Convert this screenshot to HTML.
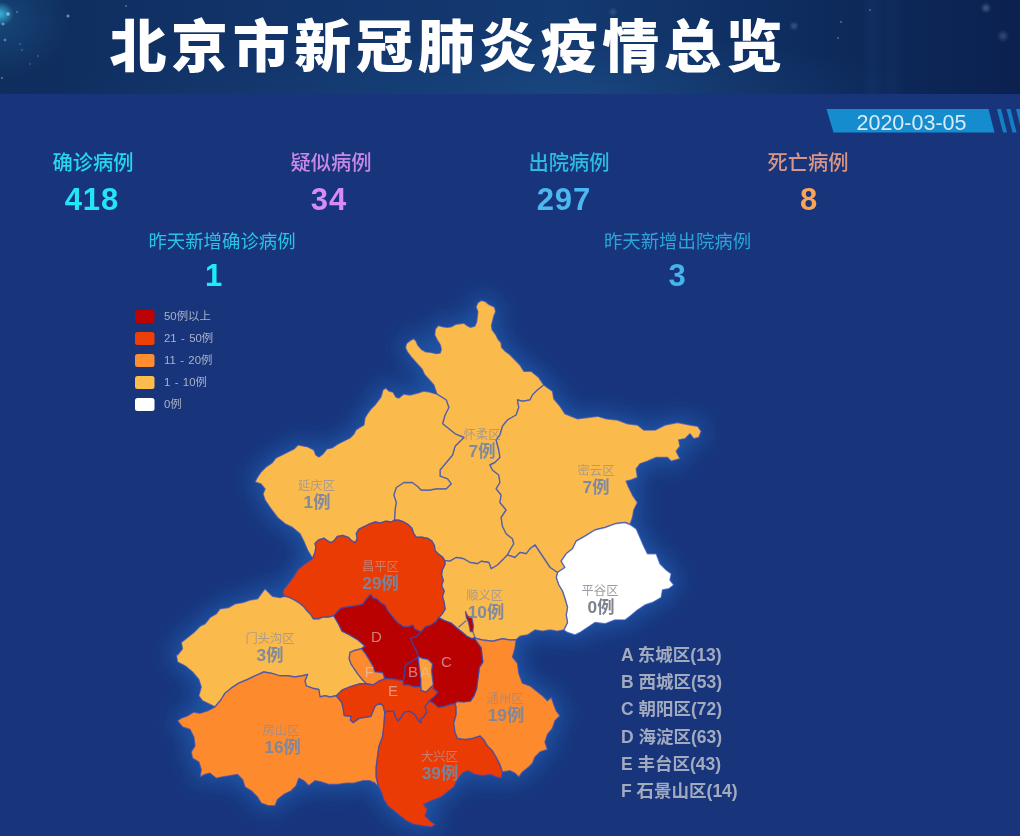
<!DOCTYPE html>
<html lang="zh-CN">
<head>
<meta charset="utf-8">
<title>北京市新冠肺炎疫情总览</title>
<style>
*{margin:0;padding:0;box-sizing:border-box}
html,body{width:1020px;height:836px;overflow:hidden;background:#18357c}
body{position:relative;font-family:"Liberation Sans","Noto Sans CJK SC",sans-serif;color:#fff}
#hdr{position:absolute;left:0;top:0;width:1020px;height:94px;overflow:hidden;
 background:
  radial-gradient(circle 2.6px at 8px 14px, rgba(190,220,245,0.9), rgba(190,220,245,0) 100%),
  radial-gradient(circle 1.9px at 3px 24px, rgba(190,220,245,0.8), rgba(190,220,245,0) 100%),
  radial-gradient(circle 1.8px at 5px 40px, rgba(190,220,245,0.7), rgba(190,220,245,0) 100%),
  radial-gradient(circle 1.6px at 17px 12px, rgba(190,220,245,0.5), rgba(190,220,245,0) 100%),
  radial-gradient(circle 1.4px at 20px 44px, rgba(190,220,245,0.4), rgba(190,220,245,0) 100%),
  radial-gradient(circle 1.4px at 22px 50px, rgba(190,220,245,0.4), rgba(190,220,245,0) 100%),
  radial-gradient(circle 2.1px at 68px 16px, rgba(190,220,245,0.8), rgba(190,220,245,0) 100%),
  radial-gradient(circle 1.3px at 38px 56px, rgba(190,220,245,0.4), rgba(190,220,245,0) 100%),
  radial-gradient(circle 1.3px at 30px 64px, rgba(190,220,245,0.35), rgba(190,220,245,0) 100%),
  radial-gradient(circle 1.6px at 2px 78px, rgba(190,220,245,0.6), rgba(190,220,245,0) 100%),
  radial-gradient(circle 1.6px at 126px 6px, rgba(190,220,245,0.5), rgba(190,220,245,0) 100%),
  radial-gradient(circle 1.6px at 870px 10px, rgba(190,220,245,0.45), rgba(190,220,245,0) 100%),
  radial-gradient(circle 1.6px at 841px 22px, rgba(190,220,245,0.5), rgba(190,220,245,0) 100%),
  radial-gradient(circle 1.6px at 838px 38px, rgba(190,220,245,0.45), rgba(190,220,245,0) 100%),
  radial-gradient(circle 4.8px at 794px 26px, rgba(190,220,245,0.25), rgba(190,220,245,0) 100%),
  radial-gradient(circle 5.6px at 986px 8px, rgba(190,220,245,0.3), rgba(190,220,245,0) 100%),
  radial-gradient(circle 6.4px at 1003px 36px, rgba(190,220,245,0.22), rgba(190,220,245,0) 100%),
  radial-gradient(circle 4.0px at 565px 50px, rgba(190,220,245,0.18), rgba(190,220,245,0) 100%),
  radial-gradient(circle 4.8px at 613px 12px, rgba(190,220,245,0.18), rgba(190,220,245,0) 100%),
  linear-gradient(90deg, rgba(60,120,190,0) 862px, rgba(60,120,190,.07) 872px, rgba(60,120,190,.02) 884px, rgba(60,120,190,.06) 892px, rgba(60,120,190,0) 904px),
  radial-gradient(ellipse 14px 12px at 0px 14px, rgba(60,190,230,.9), rgba(60,190,230,0) 100%),
  radial-gradient(ellipse 70px 60px at 0px 20px, rgba(30,100,150,.45), rgba(30,100,150,0) 100%),
  radial-gradient(ellipse 330px 60px at 580px 94px, rgba(38,95,160,.32), rgba(38,95,160,0) 100%),
  radial-gradient(ellipse 200px 50px at 260px 94px, rgba(30,75,135,.2), rgba(30,75,135,0) 100%),
  linear-gradient(90deg,#0f2d5d 0%,#11346a 28%,#133a71 55%,#0e2b5d 80%,#0b2150 100%);}
#hdr h1{position:absolute;left:109.5px;top:6.5px;font-family:"Liberation Sans","Noto Sans CJK SC",sans-serif;font-weight:900;font-size:57px;letter-spacing:4.6px;line-height:80px;white-space:nowrap;color:#fff}
.stat{position:absolute;text-align:center;white-space:nowrap}
.stat .l{font-size:20.3px;line-height:25px;font-weight:500}
.stat .l2{font-size:18.4px;line-height:24px;font-weight:400}
.stat .n{font-size:31px;line-height:36px;margin-top:5.5px;font-weight:bold;letter-spacing:1px}
.stat .n2{margin-top:4.5px}
#date{position:absolute;left:826px;top:109px;width:168px;height:23px}
#date span{position:absolute;left:0.5px;top:2px;width:170px;text-align:center;font-size:21.5px;letter-spacing:0;line-height:25px;color:#d9ebfa}
#map{position:absolute;left:0;top:0;width:1020px;height:836px}
.d{stroke:rgba(45,75,190,.65);stroke-width:1.4;stroke-linejoin:round}
.c0{fill:#ffffff}.c1{fill:#fbba4c}.c2{fill:#fd8b2d}.c3{fill:#ea3b04}.c4{fill:#ba0101}.c5{fill:#fda03c}
.glow{fill:#2064b8;stroke:#2064b8;stroke-width:10;filter:url(#gl);opacity:.72}
.lg text{font-size:11.4px;word-spacing:1.2px;fill:#a9b2c6}
.nm{font-size:12.3px;fill:rgba(132,138,162,.64);text-anchor:middle}
.nr{fill:rgba(175,180,198,.55)}
.ct{font-size:17.3px;font-weight:bold;fill:rgba(118,134,162,.93);text-anchor:middle}
.lt{font-size:15px;fill:rgba(225,200,200,.62);text-anchor:middle}
.ls text{font-size:17.5px;font-weight:bold;fill:#a2abbe}
</style>
</head>
<body>
<div id="hdr"><h1>北京市新冠肺炎疫情总览</h1></div>
<svg id="map" viewBox="0 0 1020 836">
<defs><filter id="gl" x="-25%" y="-25%" width="150%" height="150%"><feGaussianBlur stdDeviation="11"/></filter></defs>
<polygon points="826.5,109 988.5,109 994.5,132.5 833.5,132.5" fill="#148ccd"/>
<polygon points="997,109 1001,109 1007,132.5 1003,132.5" fill="#1480c4"/>
<polygon points="1006.5,109 1010.5,109 1016.5,132.5 1012.5,132.5" fill="#1480c4"/>
<polygon points="1016,109 1020,109 1026,132.5 1022,132.5" fill="#1480c4"/>
<path class="glow" d="M436.9,394.2L433.8,385L424.5,374.5L422.1,369.2L416.7,363.2L411.4,357.2L407.2,351.8L405.4,347.6L406.6,343.4L410.2,340.5L413.8,338.7L416.1,341.1L417.9,345.2L421.5,349.4L425.7,351.8L431.1,352.4L435.9,353.6L440.1,353L441.3,349.4L440.1,344.6L437.1,339.9L434.7,335.1L435.3,329.1L438.3,325.5L442.5,326.7L447.2,327.3L451.4,326.7L455.6,324.3L459.8,323.7L464,323.1L467,325.5L470.6,327.3L474.8,326.1L476.6,321.9L477.2,317.1L477.8,311.7L476,307L477.8,302.8L481.3,300.4L485.5,301.6L489.1,304.6L494.5,307L495.7,311.7L493.9,315.9L492.7,320.7L491.5,325.5L492.1,329.7L495.7,334.5L498.1,339.3L501.1,342.8L501.7,347.6L505.3,351.2L510,354.8L513.6,358.4L520,365L523.8,371.2L531.2,371.2L538.8,377.5L543.8,385L552.5,391.2L553.8,398.8L560,406.2L565,413.8L577.5,418.8L587.5,417.5L597.5,416.2L606.2,418.8L617.5,420L627.5,423.8L637.5,425L643.8,430L655,430L665,425L677.5,422.5L690,425L697.5,426.2L701.2,431.2L698.8,437.5L693.8,438.8L690,433.8L685,438.8L678.8,440L680,446.2L676.2,451.2L680,458.8L671.2,461.2L667.5,457.5L656.2,457.5L647.5,461.2L640,463.8L636.2,468.8L637.5,477.5L631.2,480L626.2,481.2L628.8,487.5L632.5,495L637.5,502.5L633.8,510L632.5,517.5L630,524.5L636.2,528.8L640,537.5L643.8,546.2L647.5,553.8L656.2,553.8L660,563.8L666.2,570L671.2,573.8L670,580L673.8,585L668.8,588.8L662.5,590L661.2,597.5L652.5,602.5L645,605L637.5,610L630,616.2L625,620L615,620L605,623.8L595,622.5L587.5,627.5L580,632.5L575,635L567.5,632.5L563.8,630L557.5,631.2L550,630L542.5,631.2L535,630L527.5,635L520,636.2L516.2,639.8L515,648.2L512.5,657L517.5,663.2L518.8,673.2L522.5,683.2L530,685.8L536.2,690.8L542.5,695.8L547.5,700.8L551.2,697L553.8,704.5L556.2,710.8L560,715.8L555,720.8L552.5,728.2L547.5,734.5L545,742L547.5,749.5L540,752L535,757L532.5,763.2L528.8,767L522.5,772L518.8,777L515,773.2L510,770.8L502.5,772L501.2,778.2L496.2,777L490,774.5L482.5,775.8L475,774.5L467.5,770.8L462.5,773.2L457.5,779.5L453.8,787L447.5,792L441.2,797L435,799.5L428.8,802L423.8,804.5L427.5,809.5L425,815.8L430,820.8L435,824.5L431.2,827L422.5,825.8L413.8,824.5L406.2,820.8L400,815.8L393.8,810.8L387.5,805.8L383.8,799.5L381.2,792L378.8,787L375,783.2L370,780.8L362.5,780.8L353.8,783.2L346.2,783.2L337.5,784.5L328.8,784.5L321.2,782L315,780.8L308.8,785.8L303.8,780.8L298.8,778.2L296.2,785.8L291.2,790.8L283.8,794.5L277.5,799.5L275,805.8L268.8,805.8L261.2,803.2L257.5,797L251.2,790.8L245,787L242.5,779.5L237.5,774.5L230,775.8L222.5,777L216.2,778.2L210,773.2L205,774.5L200,777L201.2,769.5L198.8,762L192.5,758.2L191.2,752L195,745.8L193.8,737L190,729.5L182.5,727L177.5,720.8L181.2,718.2L187.5,715.8L193.8,712L200,713.2L207.5,710.8L215,707L210,704.5L202.5,700.8L198.8,695.8L201.2,687L198.8,679.5L192.5,672L185,665.8L177.5,662L176.2,654.5L177.5,655L182.5,648.8L181.2,642.5L187.5,637.5L193.8,632.5L200,626.2L205,623.8L210,617.5L216.2,613.8L220,608.8L228.8,607.5L235,603.8L242.5,602.5L250,600L257.5,598.8L261.2,593.8L265,588.8L268.8,592.5L272.5,596.2L280,597.5L284.5,596.4L282.7,592.9L283.6,589.4L288.1,584L293.5,576.8L297.9,569.6L303.3,565.1L309.6,560.6L312.5,558.6L307.5,550L303.8,541.2L300,533.8L292.5,527.5L285,523.8L277.5,517.5L270,507.5L265,499.9L263,493.9L265,488.9L261,483.9L255,481.9L257,477.9L261,471.9L266,466.9L272,462.9L276,457.9L282,454.9L288,451.9L294,448.9L298,444.9L302.9,445.9L307.9,446.9L313.9,449.9L315.9,454.9L318.9,456.9L322.9,453.9L326.9,448.9L331.9,447.9L337.9,443.9L343.9,440.9L349.9,437.9L353.9,433.9L355.9,430L358.9,428L363.9,425L364.9,418L367.9,413L370.9,409L374.9,405L377.9,401L380.9,397L382.9,390L385.9,388L388.9,391L392.9,392L395.9,397L398.9,398L403.8,394L409.8,395L417.8,393L423.8,391L429.8,392L436.9,394.2Z"/>
<path class="d c1" d="M436.9,394.2L433.8,385L424.5,374.5L422.1,369.2L416.7,363.2L411.4,357.2L407.2,351.8L405.4,347.6L406.6,343.4L410.2,340.5L413.8,338.7L416.1,341.1L417.9,345.2L421.5,349.4L425.7,351.8L431.1,352.4L435.9,353.6L440.1,353L441.3,349.4L440.1,344.6L437.1,339.9L434.7,335.1L435.3,329.1L438.3,325.5L442.5,326.7L447.2,327.3L451.4,326.7L455.6,324.3L459.8,323.7L464,323.1L467,325.5L470.6,327.3L474.8,326.1L476.6,321.9L477.2,317.1L477.8,311.7L476,307L477.8,302.8L481.3,300.4L485.5,301.6L489.1,304.6L494.5,307L495.7,311.7L493.9,315.9L492.7,320.7L491.5,325.5L492.1,329.7L495.7,334.5L498.1,339.3L501.1,342.8L501.7,347.6L505.3,351.2L510,354.8L513.6,358.4L520,365L523.8,371.2L531.2,371.2L538.8,377.5L543.8,385L537.5,390L532.5,395L530,400L522.5,401.2L517.5,400L518.8,407.5L516.2,415L507.5,420L502.5,426.2L500,435L496.2,440L498.8,450L500,457.5L495,462.5L490,465L492.5,470L498.8,475L500,482.5L496.2,488.8L501.2,495L500,502.5L506.2,510L501.2,517.5L502.5,526.2L506.2,533.8L512.5,538.8L513.8,543.8L510,550L507.5,555L502.5,560L497.5,565L491.2,568.8L488.8,562.5L481.2,561.2L477.5,563.8L470,562.5L463.8,558.8L456.2,557.5L450,561.2L444.8,560.6L442.4,557L438.8,554.4L435.2,550.8L434.3,545.4L431.7,540.9L427.2,538.2L421.8,537.3L416.4,537.3L413.7,533.7L411.9,528.3L408.3,524.7L403.8,522L399.3,520.3L394.5,520L395,510L396.2,502.5L393.8,495L396.2,487.5L403.8,482.5L412.5,482.5L417.5,486.2L421.2,490L430,490L436.2,488.8L446.2,488.8L451.2,483.8L447.5,478.8L440,476.2L440,470L446.2,462.5L452.5,455L455,446.2L460,441.2L463.8,437.5L455,433.8L448.8,428.8L442.5,423.8L445,415L448.8,407.5L446.2,400L436.9,394.2Z"/>
<path class="d c1" d="M543.8,385L552.5,391.2L553.8,398.8L560,406.2L565,413.8L577.5,418.8L587.5,417.5L597.5,416.2L606.2,418.8L617.5,420L627.5,423.8L637.5,425L643.8,430L655,430L665,425L677.5,422.5L690,425L697.5,426.2L701.2,431.2L698.8,437.5L693.8,438.8L690,433.8L685,438.8L678.8,440L680,446.2L676.2,451.2L680,458.8L671.2,461.2L667.5,457.5L656.2,457.5L647.5,461.2L640,463.8L636.2,468.8L637.5,477.5L631.2,480L626.2,481.2L628.8,487.5L632.5,495L637.5,502.5L633.8,510L632.5,517.5L630,524.5L625,522.5L615,523.8L605,527.5L595,530L585,536.2L576.2,541.2L572.5,548.8L566.2,553.8L561.2,561.2L565,567.5L557.5,572.5L550,567.5L545,560L540,552.5L535,545L530,548.8L526.2,553.8L520,552.5L515,557.5L507.5,555L510,550L513.8,543.8L512.5,538.8L506.2,533.8L502.5,526.2L501.2,517.5L506.2,510L500,502.5L501.2,495L496.2,488.8L500,482.5L498.8,475L492.5,470L490,465L495,462.5L500,457.5L498.8,450L496.2,440L500,435L502.5,426.2L507.5,420L516.2,415L518.8,407.5L517.5,400L522.5,401.2L530,400L532.5,395L537.5,390L543.8,385Z"/>
<path class="d c0" d="M630,524.5L636.2,528.8L640,537.5L643.8,546.2L647.5,553.8L656.2,553.8L660,563.8L666.2,570L671.2,573.8L670,580L673.8,585L668.8,588.8L662.5,590L661.2,597.5L652.5,602.5L645,605L637.5,610L630,616.2L625,620L615,620L605,623.8L595,622.5L587.5,627.5L580,632.5L575,635L567.5,632.5L563.8,630L567.5,622.5L566.2,615L567.5,607.5L565,598.8L562.5,591.2L558.8,585L556.2,577.5L557.5,572.5L565,567.5L561.2,561.2L566.2,553.8L572.5,548.8L576.2,541.2L585,536.2L595,530L605,527.5L615,523.8L625,522.5L630,524.5Z"/>
<path class="d c1" d="M444.8,560.6L450,561.2L456.2,557.5L463.8,558.8L470,562.5L477.5,563.8L481.2,561.2L488.8,562.5L491.2,568.8L497.5,565L502.5,560L507.5,555L515,557.5L520,552.5L526.2,553.8L530,548.8L535,545L540,552.5L545,560L550,567.5L557.5,572.5L556.2,577.5L558.8,585L562.5,591.2L565,598.8L567.5,607.5L566.2,615L567.5,622.5L563.8,630L557.5,631.2L550,630L542.5,631.2L535,630L527.5,635L520,636.2L516.2,639.8L510,640L502.5,638.8L492.5,641.2L482.5,640L473.9,637.9L472.2,639L466.9,636.4L461.6,631.9L457.2,628.4L451,623.1L443.9,620.4L438.7,617.7L442.4,613.6L445.1,609.1L444.2,602.8L442.4,596.5L444.2,591.1L441.5,585.8L443.3,580.4L441.5,575L442.4,569.6L445.1,564.2L444.8,560.6Z"/>
<path class="d c1" d="M312.5,558.6L307.5,550L303.8,541.2L300,533.8L292.5,527.5L285,523.8L277.5,517.5L270,507.5L265,499.9L263,493.9L265,488.9L261,483.9L255,481.9L257,477.9L261,471.9L266,466.9L272,462.9L276,457.9L282,454.9L288,451.9L294,448.9L298,444.9L302.9,445.9L307.9,446.9L313.9,449.9L315.9,454.9L318.9,456.9L322.9,453.9L326.9,448.9L331.9,447.9L337.9,443.9L343.9,440.9L349.9,437.9L353.9,433.9L355.9,430L358.9,428L363.9,425L364.9,418L367.9,413L370.9,409L374.9,405L377.9,401L380.9,397L382.9,390L385.9,388L388.9,391L392.9,392L395.9,397L398.9,398L403.8,394L409.8,395L417.8,393L423.8,391L429.8,392L436.9,394.2L446.2,400L448.8,407.5L445,415L442.5,423.8L448.8,428.8L455,433.8L463.8,437.5L460,441.2L455,446.2L452.5,455L446.2,462.5L440,470L440,476.2L447.5,478.8L451.2,483.8L446.2,488.8L436.2,488.8L430,490L421.2,490L417.5,486.2L412.5,482.5L403.8,482.5L396.2,487.5L393.8,495L396.2,502.5L395,510L394.5,520L391.3,522L385.9,521.2L380.5,522.9L375.1,522L369.7,523.8L364.4,526.5L359,529.2L356.3,533.7L357.2,538.2L355.4,542.7L351.8,540.9L348.2,537.3L342.8,535.5L337.4,536.4L334.7,540L331.1,542.7L327.6,540.9L324,538.2L318.6,540L315,543.6L315.9,547.2L315,552.6L312.5,558.6Z"/>
<path class="d c3" d="M312.5,558.6L315,552.6L315.9,547.2L315,543.6L318.6,540L324,538.2L327.6,540.9L331.1,542.7L334.7,540L337.4,536.4L342.8,535.5L348.2,537.3L351.8,540.9L355.4,542.7L357.2,538.2L356.3,533.7L359,529.2L364.4,526.5L369.7,523.8L375.1,522L380.5,522.9L385.9,521.2L391.3,522L394.5,520L399.3,520.3L403.8,522L408.3,524.7L411.9,528.3L413.7,533.7L416.4,537.3L421.8,537.3L427.2,538.2L431.7,540.9L434.3,545.4L435.2,550.8L438.8,554.4L442.4,557L444.8,560.6L445.1,564.2L442.4,569.6L441.5,575L443.3,580.4L441.5,585.8L444.2,591.1L442.4,596.5L444.2,602.8L445.1,609.1L442.4,613.6L438.7,617.7L436.1,621.7L430.8,625.2L425.4,627L422.7,630.3L420.6,631.9L414.6,628.8L412.8,625.2L408.3,627L403.8,627L398.4,623.4L394.9,619.9L391.3,615.4L387.7,610.9L385,605.5L380.5,602.8L376.9,599.2L373.3,598.3L370.6,594.7L367.9,597.4L365.2,601L362.6,604.6L357.2,605.5L351.8,606.4L346.4,607.3L341,608.2L337.4,611.8L333.9,615.9L328.5,617.2L323.1,617.2L318.6,619L313.2,619L310.5,614.5L306.9,610.9L303.3,606.4L298.8,602.8L294.4,600.1L289,597.4L284.5,596.4L282.7,592.9L283.6,589.4L288.1,584L293.5,576.8L297.9,569.6L303.3,565.1L309.6,560.6L312.5,558.6Z"/>
<path class="d c1" d="M215,707L210,704.5L202.5,700.8L198.8,695.8L201.2,687L198.8,679.5L192.5,672L185,665.8L177.5,662L176.2,654.5L177.5,655L182.5,648.8L181.2,642.5L187.5,637.5L193.8,632.5L200,626.2L205,623.8L210,617.5L216.2,613.8L220,608.8L228.8,607.5L235,603.8L242.5,602.5L250,600L257.5,598.8L261.2,593.8L265,588.8L268.8,592.5L272.5,596.2L280,597.5L284.5,596.4L289,597.4L294.4,600.1L298.8,602.8L303.3,606.4L306.9,610.9L310.5,614.5L313.2,619L318.6,619L323.1,617.2L328.5,617.2L333.9,615.9L338.6,624L342.1,631.1L349.2,634.6L358.1,639.9L365.1,646.1L361.6,648.8L354.5,650.5L350.1,652.3L349.2,658.5L351,663.8L354.5,669.1L358.1,674.4L362.5,679.7L366.7,683.7L360.2,683.6L351.3,686.3L342.5,689.8L336.3,695.7L330,697L325,695.8L320,697L318.8,689.5L312.5,688.2L306.2,685.8L305,680.8L307.5,674.5L302.5,675.8L295,677L287.5,675.8L280,675.8L271.2,673.2L263.8,672L255,675.8L247.5,679.5L238.8,683.2L231.2,688.2L225,693.2L221.2,699.5L215,707Z"/>
<path class="d c2" d="M378.8,787L375,783.2L370,780.8L362.5,780.8L353.8,783.2L346.2,783.2L337.5,784.5L328.8,784.5L321.2,782L315,780.8L308.8,785.8L303.8,780.8L298.8,778.2L296.2,785.8L291.2,790.8L283.8,794.5L277.5,799.5L275,805.8L268.8,805.8L261.2,803.2L257.5,797L251.2,790.8L245,787L242.5,779.5L237.5,774.5L230,775.8L222.5,777L216.2,778.2L210,773.2L205,774.5L200,777L201.2,769.5L198.8,762L192.5,758.2L191.2,752L195,745.8L193.8,737L190,729.5L182.5,727L177.5,720.8L181.2,718.2L187.5,715.8L193.8,712L200,713.2L207.5,710.8L215,707L221.2,699.5L225,693.2L231.2,688.2L238.8,683.2L247.5,679.5L255,675.8L263.8,672L271.2,673.2L280,675.8L287.5,675.8L295,677L302.5,675.8L307.5,674.5L305,680.8L306.2,685.8L312.5,688.2L318.8,689.5L320,697L325,695.8L330,697L336.3,695.7L338.1,697.8L341.6,702.2L343.4,709.3L344.2,715.5L351.3,716.4L350.4,719.9L353.1,722.6L359.3,718.1L365.5,717.3L370.8,716.4L372.6,711.9L375.2,705.8L379.6,703.1L383.2,705.8L384.8,712.3L383.8,727L382.5,737L378.8,747L377.5,757L376.2,767L376.2,777L378.8,787Z"/>
<path class="d c3" d="M502.5,772L501.2,778.2L496.2,777L490,774.5L482.5,775.8L475,774.5L467.5,770.8L462.5,773.2L457.5,779.5L453.8,787L447.5,792L441.2,797L435,799.5L428.8,802L423.8,804.5L427.5,809.5L425,815.8L430,820.8L435,824.5L431.2,827L422.5,825.8L413.8,824.5L406.2,820.8L400,815.8L393.8,810.8L387.5,805.8L383.8,799.5L381.2,792L378.8,787L376.2,777L376.2,767L377.5,757L378.8,747L382.5,737L383.8,727L384.8,712.3L387.6,711.1L393.8,711.1L395.6,717.3L398.2,720.8L400.9,717.3L404.4,711.9L409.7,711.1L415,714.6L418.6,720.8L421.2,722.6L420.4,719L423.9,716.4L426.5,711.9L424.8,706.6L429.2,700.8L433.3,702.7L438.6,707.2L443.9,706.3L451,704L455,703.2L456.2,707L456.2,714.5L453.8,723.2L455,732L457.5,738.2L465,739.5L472.5,738.2L480,735.8L483.8,739.5L487.5,745.8L492.5,750.8L496.2,757L500,764.5L502.5,772Z"/>
<path class="d c2" d="M516.2,639.8L515,648.2L512.5,657L517.5,663.2L518.8,673.2L522.5,683.2L530,685.8L536.2,690.8L542.5,695.8L547.5,700.8L551.2,697L553.8,704.5L556.2,710.8L560,715.8L555,720.8L552.5,728.2L547.5,734.5L545,742L547.5,749.5L540,752L535,757L532.5,763.2L528.8,767L522.5,772L518.8,777L515,773.2L510,770.8L502.5,772L500,764.5L496.2,757L492.5,750.8L487.5,745.8L483.8,739.5L480,735.8L472.5,738.2L465,739.5L457.5,738.2L455,732L453.8,723.2L456.2,714.5L456.2,707L455,703.2L457.2,701.3L463.4,701.9L470.4,701L474,695.7L476.6,688.6L477.5,681.5L478.4,674.4L479.3,667.3L482.8,662L481.9,655L481.1,647.9L476.6,641.7L473.9,637.9L482.5,640L492.5,641.2L502.5,638.8L510,640L516.2,639.8Z"/>
<path class="d c4" d="M438.7,617.7L443.9,620.4L451,623.1L457.2,628.4L461.6,631.9L466.9,636.4L472.2,639L473.9,637.9L476.6,641.7L481.1,647.9L481.9,655L482.8,662L479.3,667.3L478.4,674.4L477.5,681.5L476.6,688.6L474,695.7L470.4,701L463.4,701.9L457.2,701.3L455,703.2L451,704L443.9,706.3L438.6,707.2L433.3,702.7L429.2,700.8L435,695.7L437.7,692.1L433.3,688.6L433.3,685L432.4,678L431.5,670.9L432.4,663.8L428,659.4L422.7,658.5L418.2,656.7L416.5,651.4L412.9,644.3L410.3,638.1L416.5,636.4L420.6,631.9L422.7,630.3L425.4,627L430.8,625.2L436.1,621.7L438.7,617.7Z"/>
<path class="d c4" d="M333.9,615.9L337.4,611.8L341,608.2L346.4,607.3L351.8,606.4L357.2,605.5L362.6,604.6L365.2,601L367.9,597.4L370.6,594.7L373.3,598.3L376.9,599.2L380.5,602.8L385,605.5L387.7,610.9L391.3,615.4L394.9,619.9L398.4,623.4L403.8,627L408.3,627L412.8,625.2L414.6,628.8L420.6,631.9L416.5,636.4L410.3,638.1L412.9,644.3L416.5,651.4L418.2,656.7L413.8,660.3L407.6,663.8L405,666.5L405,672.7L404.1,678L403.2,680.6L397,679.7L390.8,678.8L384.6,678.8L382.8,672.7L374.9,671.8L373.1,666.5L369.6,660.3L365.1,653.2L361.6,648.8L365.1,646.1L358.1,639.9L349.2,634.6L342.1,631.1L338.6,624L333.9,615.9Z"/>
<path class="d c4" d="M403.2,680.6L404.1,678L405,672.7L405,666.5L407.6,663.8L413.8,660.3L418.2,656.7L419.1,665.6L420,672.7L420.9,679.7L420.9,686.8L413.8,686.8L408.5,685L403.2,685L403.2,680.6Z"/>
<path class="d c5" d="M418.2,656.7L422.7,658.5L428,659.4L432.4,663.8L431.5,670.9L432.4,678L433.3,685L429.7,688.6L426.2,692.1L420.9,690.4L420.9,686.8L420.9,679.7L420,672.7L419.1,665.6L418.2,656.7Z"/>
<path class="d c2" d="M365.1,646.1L361.6,648.8L354.5,650.5L350.1,652.3L349.2,658.5L351,663.8L354.5,669.1L358.1,674.4L362.5,679.7L366.7,683.7L373.1,685L378.4,681.5L384.6,678.8L382.8,672.7L374.9,671.8L373.1,666.5L369.6,660.3L365.1,653.2L361.6,648.8L365.1,646.1Z"/>
<path class="d c3" d="M336.3,695.7L342.5,689.8L351.3,686.3L360.2,683.6L366.7,683.7L373.1,685L378.4,681.5L384.6,678.8L390.8,678.8L397,679.7L403.2,680.6L403.2,685L408.5,685L413.8,686.8L420.9,686.8L420.9,690.4L426.2,692.1L429.7,688.6L433.3,685L433.3,688.6L437.7,692.1L435,695.7L429.2,700.8L424.8,706.6L426.5,711.9L423.9,716.4L420.4,719L421.2,722.6L418.6,720.8L415,714.6L409.7,711.1L404.4,711.9L400.9,717.3L398.2,720.8L395.6,717.3L393.8,711.1L387.6,711.1L384.8,712.3L383.2,705.8L379.6,703.1L375.2,705.8L372.6,711.9L370.8,716.4L365.5,717.3L359.3,718.1L353.1,722.6L350.4,719.9L351.3,716.4L344.2,715.5L343.4,709.3L341.6,702.2L338.1,697.8L336.3,695.7Z"/>
<path class="d c4" d="M465.5,611.5L467.8,616.3L471.7,616.9L473.5,625.9L472.8,631.5L470.3,631.5L469.3,625.9L468.1,621.1L466.3,617.5Z"/>
<path class="d" fill="none" d="M458.6,627.1L466.3,620.5"/>
<path class="d" fill="none" d="M472.6,631.3L475.3,637.9"/>
<g class="lg">
<rect x="135" y="310" width="19.5" height="13" rx="2.5" fill="#bd0202"/><text x="164" y="320">50例以上</text>
<rect x="135" y="332" width="19.5" height="13" rx="2.5" fill="#ee4006"/><text x="164" y="342">21 - 50例</text>
<rect x="135" y="354" width="19.5" height="13" rx="2.5" fill="#fd8d2e"/><text x="164" y="364">11 - 20例</text>
<rect x="135" y="376" width="19.5" height="13" rx="2.5" fill="#fdbd4e"/><text x="164" y="386">1 - 10例</text>
<rect x="135" y="398" width="19.5" height="13" rx="2.5" fill="#ffffff"/><text x="164" y="408">0例</text>
</g>
<g>
<text class="nm" x="482" y="439">怀柔区</text><text class="ct" x="482" y="457">7例</text>
<text class="nm" x="596" y="474.7">密云区</text><text class="ct" x="596" y="492.7">7例</text>
<text class="nm" x="316.5" y="490">延庆区</text><text class="ct" x="317" y="508">1例</text>
<text class="nm nr" x="380.4" y="570.8">昌平区</text><text class="ct" x="380.6" y="588.8">29例</text>
<text class="nm" x="484.7" y="600">顺义区</text><text class="ct" x="486" y="618">10例</text>
<text class="nm" x="600" y="594.8" style="fill:#9a9ca3">平谷区</text><text class="ct" x="601" y="612.8" style="fill:#7c828e">0例</text>
<text class="nm" x="270" y="642.8">门头沟区</text><text class="ct" x="270" y="660.8">3例</text>
<text class="nm" x="505" y="703">通州区</text><text class="ct" x="506" y="721">19例</text>
<text class="nm" x="281" y="735.3">房山区</text><text class="ct" x="282.6" y="753.3">16例</text>
<text class="nm nr" x="439.4" y="761.4">大兴区</text><text class="ct" x="440" y="779.4">39例</text>
<text class="lt" x="376.5" y="642">D</text>
<text class="lt" x="446.5" y="666.5">C</text>
<text class="lt" x="413" y="677">B</text>
<text class="lt" x="425.3" y="676.5" style="opacity:.7">A</text>
<text class="lt" x="393" y="696">E</text>
<text class="lt" x="369.4" y="677">F</text>
</g>
<g class="ls">
<text x="621" y="660.6">A 东城区(13)</text>
<text x="621" y="688">B 西城区(53)</text>
<text x="621" y="715.3">C 朝阳区(72)</text>
<text x="621" y="742.6">D 海淀区(63)</text>
<text x="621" y="770">E 丰台区(43)</text>
<text x="621" y="797.3">F 石景山区(14)</text>
</g>
</svg>
<div id="date"><span>2020-03-05</span></div>
<div class="stat" style="left:0;width:186px;top:151px;color:#26d6ee"><div class="l">确诊病例</div><div class="n" style="margin-left:-2px;color:#22e6f8">418</div></div>
<div class="stat" style="left:238px;width:186px;top:151px;color:#c887eb"><div class="l">疑似病例</div><div class="n" style="margin-left:-4px;color:#d78cf5">34</div></div>
<div class="stat" style="left:476px;width:186px;top:151px;color:#2dbbe0"><div class="l">出院病例</div><div class="n" style="margin-left:-10px;color:#4bb9f0">297</div></div>
<div class="stat" style="left:715px;width:186px;top:151px;color:#d79687"><div class="l">死亡病例</div><div class="n" style="color:#faa555;margin-left:2px">8</div></div>
<div class="stat" style="left:122px;width:200px;top:229.5px;color:#2ac2e6"><div class="l l2">昨天新增确诊病例</div><div class="n n2" style="color:#1eebfa;margin-left:-16px">1</div></div>
<div class="stat" style="left:577.5px;width:200px;top:229.5px;color:#2aa5d9"><div class="l l2">昨天新增出院病例</div><div class="n n2" style="color:#45b4ee">3</div></div>
</body>
</html>
